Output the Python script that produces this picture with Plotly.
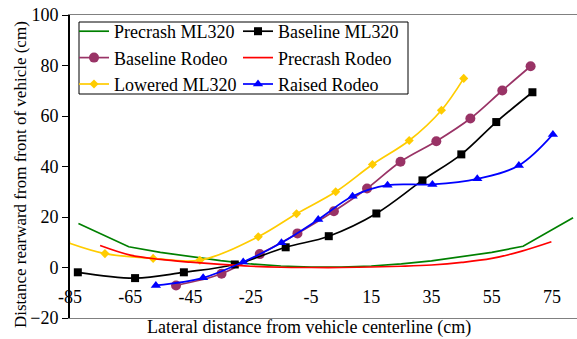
import plotly.graph_objects as go

# ---- data ----
precrash_ml320_x = [-82.2, -65.5, -55, -45, -35, -25, -15, -5, 5, 15, 25, 35, 45, 55, 65.4, 82]
precrash_ml320_y = [17.4, 8.2, 6.0, 4.3, 2.7, 1.4, 0.6, 0.2, 0.2, 0.6, 1.4, 2.6, 4.2, 6.0, 8.4, 19.7]

baseline_ml320_x = [-82.4, -63.4, -47.2, -30.3, -13.4, 0.9, 16.7, 32.0, 44.9, 56.5, 68.5]
baseline_ml320_y = [-1.9, -4.2, -1.9, 1.2, 8.0, 12.4, 21.4, 34.5, 44.8, 57.6, 69.4]

baseline_rodeo_x = [-49.8, -34.7, -22.0, -9.5, 2.6, 13.6, 24.7, 36.6, 47.9, 58.5, 67.9]
baseline_rodeo_y = [-7.1, -2.5, 5.3, 13.5, 22.3, 31.3, 41.9, 50.0, 59.0, 70.1, 79.7]

precrash_rodeo_x = [-75, -65, -55, -45, -35, -25, -15, -5, 5, 15, 25, 35, 45, 55, 65, 74.8]
precrash_rodeo_y = [8.7, 4.9, 3.2, 2.1, 1.2, 0.5, 0.1, 0.0, 0.0, 0.2, 0.5, 1.0, 2.0, 3.6, 6.5, 10.2]

lowered_ml320_x = [-86.3, -73.4, -57.4, -41.9, -22.5, -9.8, 3.2, 15.4, 27.6, 38.3, 45.7]
lowered_ml320_y = [10.1, 5.5, 3.6, 2.9, 12.2, 21.3, 30.0, 40.8, 50.3, 62.3, 74.9]

raised_rodeo_x = [-56.5, -40.8, -27.5, -14.8, -2.6, 8.8, 20.4, 35.3, 50.2, 64.0, 75.3]
raised_rodeo_y = [-7.1, -4.1, 2.2, 9.8, 19.0, 28.2, 32.6, 32.9, 35.1, 40.4, 52.7]

x_ticks = [-85, -65, -45, -25, -5, 15, 35, 55, 75]
y_ticks = [-20, 0, 20, 40, 60, 80, 100]

FONT = "Liberation Serif"
XR = [-85, 83.3]
YR = [-20, 100]

fig = go.Figure()

def add(x, y, name, color, legend, symbol=None, size=0, shape="spline"):
    kw = dict(x=x, y=y, name=name, legend=legend,
              line=dict(color=color, width=1.7, shape=shape))
    if symbol:
        kw["mode"] = "lines+markers"
        kw["marker"] = dict(symbol=symbol, size=size, color=color)
    else:
        kw["mode"] = "lines"
    fig.add_trace(go.Scatter(**kw))

add(precrash_ml320_x, precrash_ml320_y, "Precrash ML320", "#008000", "legend", shape="linear")
add(baseline_rodeo_x, baseline_rodeo_y, "Baseline Rodeo", "#993366", "legend", "circle", 10)
add(lowered_ml320_x, lowered_ml320_y, "Lowered ML320", "#FFCC00", "legend", "diamond", 7)
add(baseline_ml320_x, baseline_ml320_y, "Baseline ML320", "#000000", "legend2", "square", 8)
add(precrash_rodeo_x, precrash_rodeo_y, "Precrash Rodeo", "#FF0000", "legend2")
add(raised_rodeo_x, raised_rodeo_y, "Raised Rodeo", "#0000FF", "legend2", "triangle-up", 9)

W, H = 577, 339
L, R, T, B = 70, 0, 15, 21
pw, ph = W - L - R, H - T - B

def px2paper_x(p):
    return (p - L) / pw

def px2paper_y(p):
    return (H - B - p) / ph

legend_common = dict(font=dict(family=FONT, size=18, color="black"),
                     bgcolor="rgba(0,0,0,0)", borderwidth=0,
                     xanchor="left", yanchor="top", tracegroupgap=0,
                     itemwidth=30, orientation="v")

fig.update_layout(
    width=W, height=H,
    margin=dict(l=L, r=R, t=T, b=B),
    plot_bgcolor="white", paper_bgcolor="white",
    font=dict(family=FONT, size=18, color="black"),
    showlegend=True,
    legend=dict(x=px2paper_x(74), y=px2paper_y(13), **legend_common),
    legend2=dict(x=px2paper_x(238), y=px2paper_y(13), **legend_common),
    xaxis=dict(range=XR, showgrid=False, zeroline=False,
               showline=True, linecolor="#808080", linewidth=1, mirror=True,
               tickmode="array", tickvals=x_ticks, ticktext=[str(v) for v in x_ticks],
               ticks="", ticklabelstandoff=-38,
               tickfont=dict(family=FONT, size=18)),
    xaxis2=dict(range=XR, overlaying="x", anchor="free", position=20/120,
                showgrid=False, zeroline=False, showline=True, linecolor="black",
                linewidth=1.5, tickmode="array", tickvals=x_ticks,
                ticks="outside", ticklen=5, tickcolor="black", tickwidth=1,
                showticklabels=False, side="bottom"),
    yaxis=dict(range=YR, showgrid=False, zeroline=False,
               showline=True, linecolor="black", linewidth=2,
               tickmode="array", tickvals=y_ticks,
               ticks="outside", ticklen=6, tickcolor="black",
               tickfont=dict(family=FONT, size=18)),
    shapes=[dict(type="rect", xref="paper", yref="paper",
                 x0=px2paper_x(79), x1=px2paper_x(408),
                 y0=px2paper_y(94), y1=px2paper_y(22),
                 line=dict(color="black", width=1), fillcolor="rgba(0,0,0,0)")],
    annotations=[
        dict(text="Lateral distance from vehicle centerline (cm)", xref="paper", yref="paper",
             x=px2paper_x(309), y=px2paper_y(327), xanchor="center", yanchor="middle",
             showarrow=False, font=dict(family=FONT, size=18)),
        dict(text="Distance rearward from front of vehicle (cm)", xref="paper", yref="paper",
             x=px2paper_x(21), y=px2paper_y(175), xanchor="center", yanchor="middle",
             textangle=-90, showarrow=False, font=dict(family=FONT, size=17)),
    ],
)

fig.write_html("out.html")
